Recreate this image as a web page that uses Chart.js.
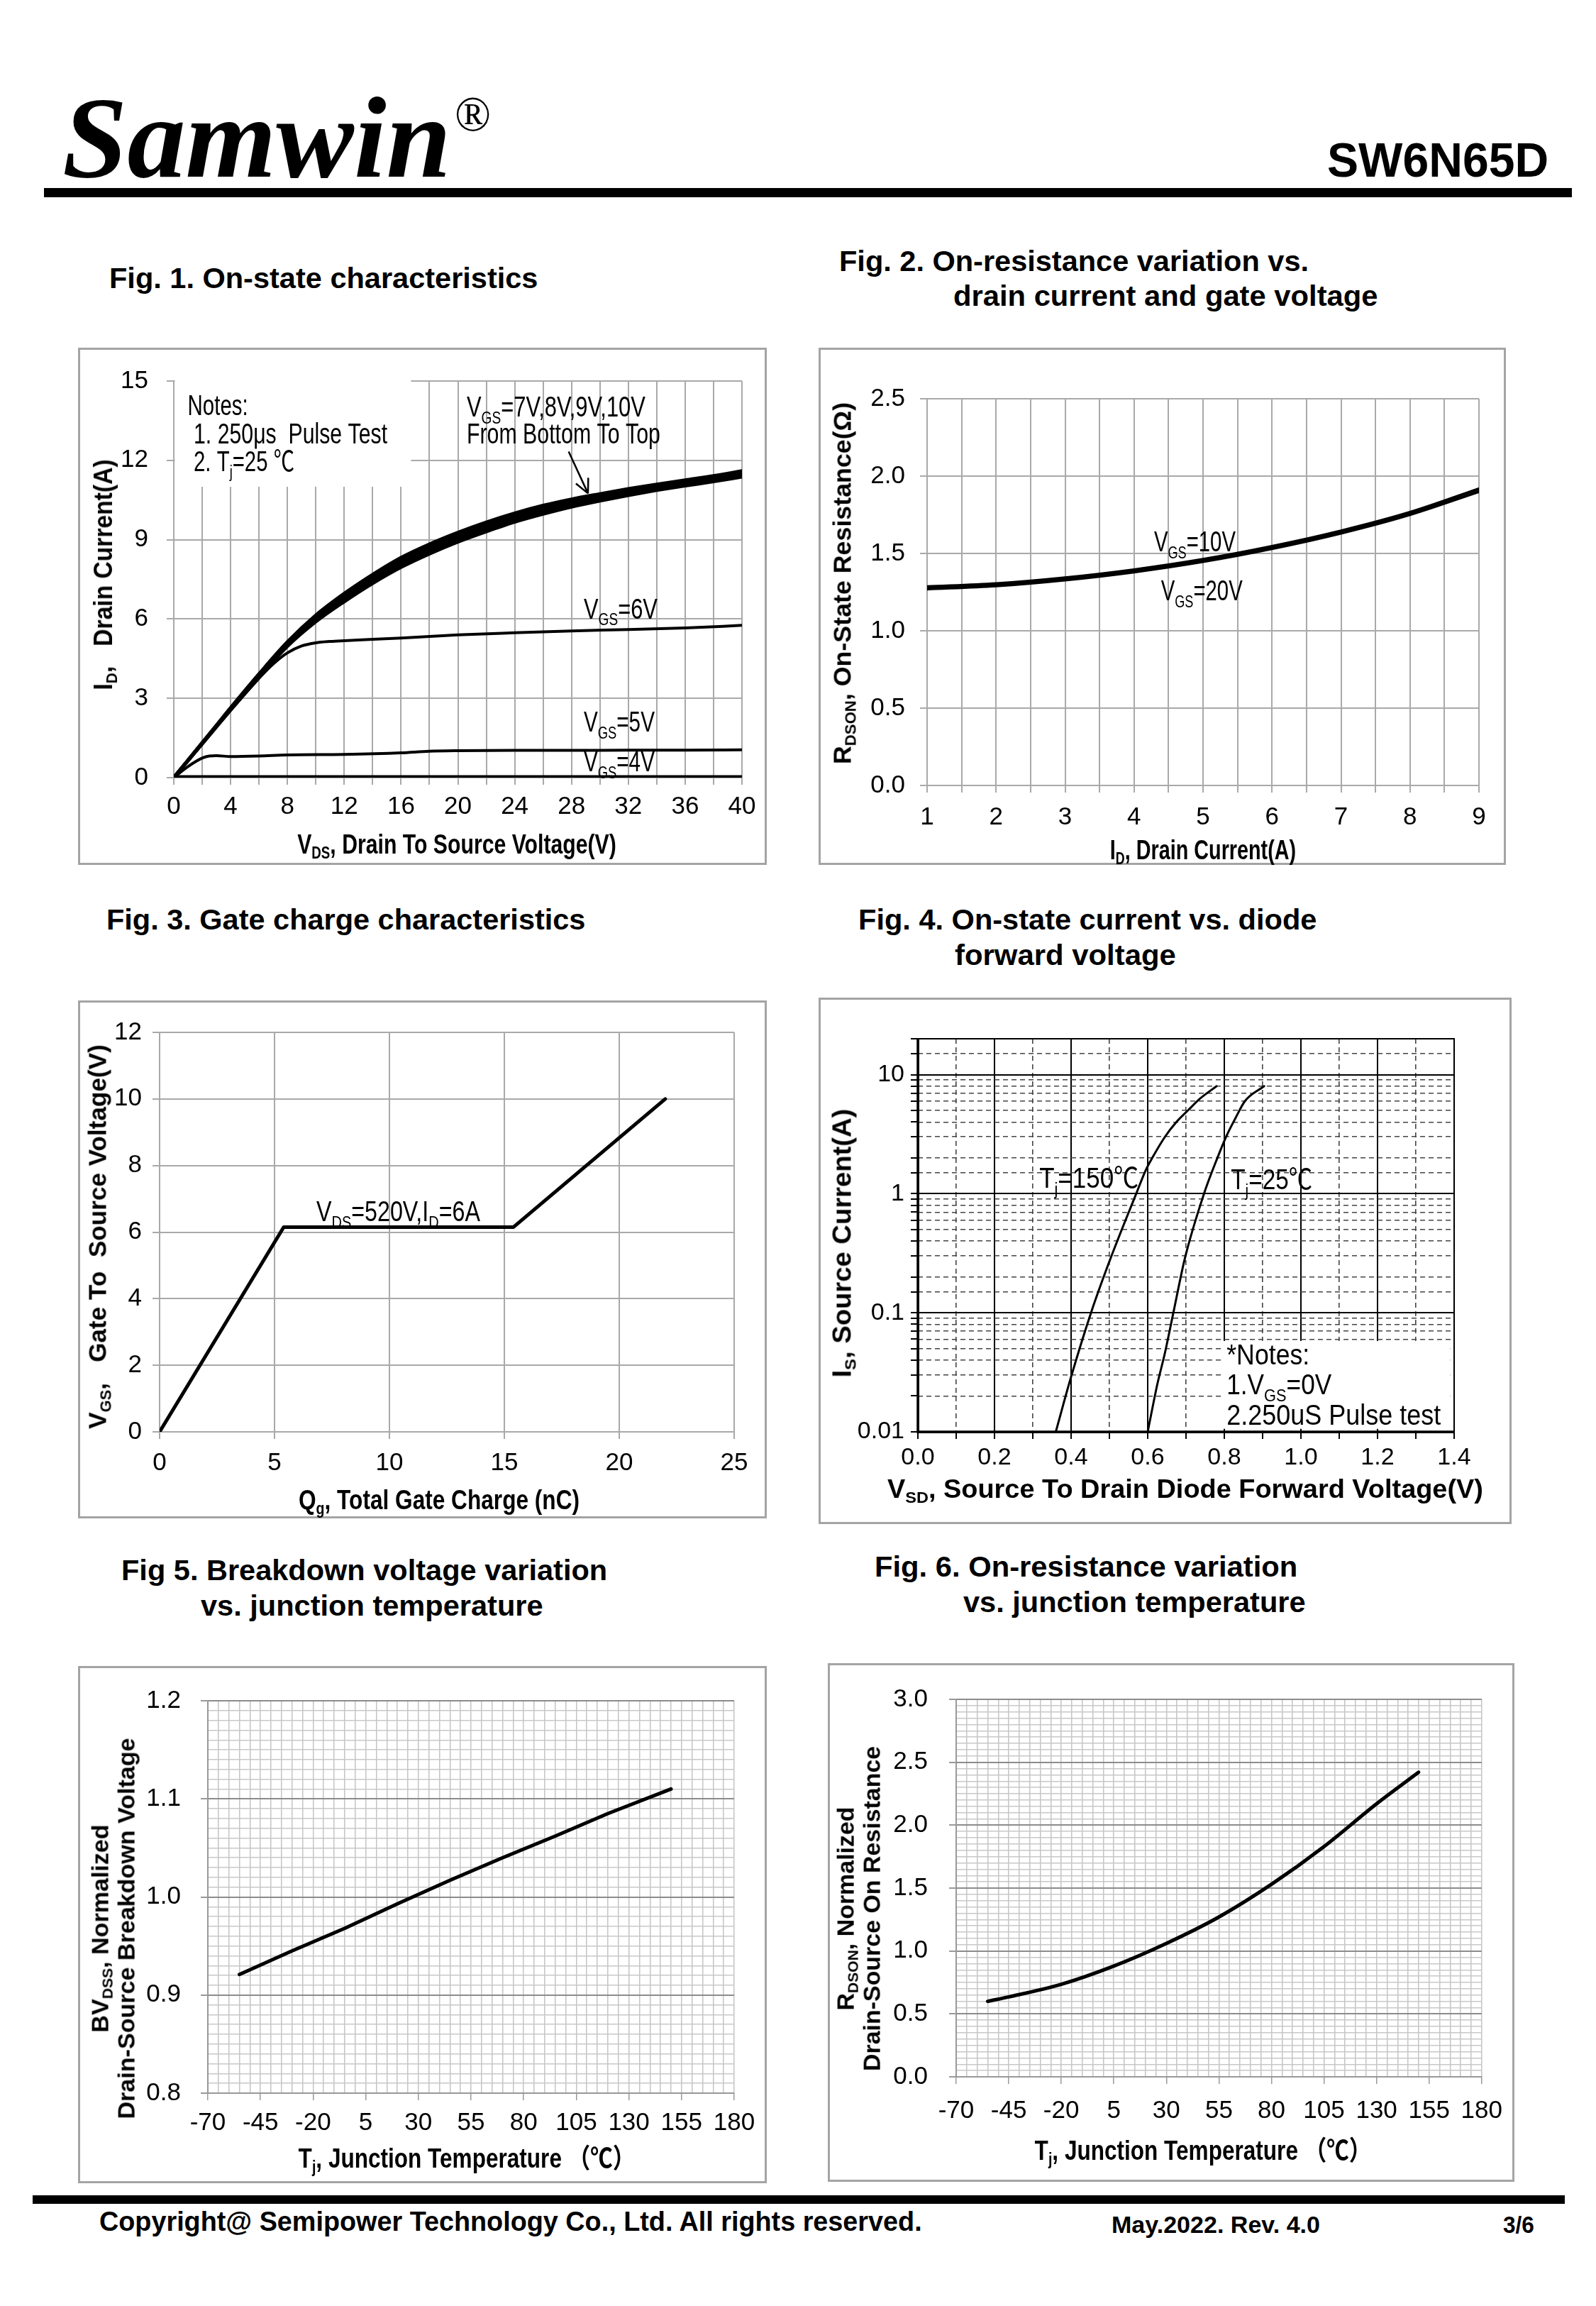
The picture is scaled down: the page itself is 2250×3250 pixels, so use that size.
<!DOCTYPE html>
<html>
<head>
<meta charset="utf-8">
<title>SW6N65D typical characteristics</title>
<script src="https://cdn.jsdelivr.net/npm/chart.js@4.4.1/dist/chart.umd.min.js"></script>
<style>
  html, body { margin: 0; padding: 0; background: #fff; }
  #page {
    position: relative; width: 2250px; height: 3250px; overflow: hidden; background: #fff; color: #000;
    font-family: "Liberation Sans", Arial, "Noto Sans CJK SC", sans-serif;
  }
  .t { position: absolute; white-space: nowrap; line-height: 1; }
  .b { font-weight: bold; }
  .s { font-size: 0.62em; position: relative; top: 0.3em; }
  .two { line-height: 1.1; text-align: center; }
  .box { position: absolute; border: 3px solid #a4a4a4; box-sizing: border-box; }
  .rule { position: absolute; background: #000; }
  canvas { position: absolute; }
</style>
</head>
<body>
<div id="page">
  <!-- header -->
  <div class="t" data-x="88" data-y="194" data-w="548" style="font: italic bold 164px/1 'Liberation Serif', 'Times New Roman', serif;">Samwin</div>
  <div class="t" data-x="641" data-y="161" data-w="51" style="font: 70px/1 'Liberation Serif', serif;">®</div>
  <div class="t b" data-x="1871" data-y="225" data-w="312" style="font-size:68px;">SW6N65D</div>
  <div class="rule" style="left:62px;top:265px;width:2154px;height:13px;"></div>

  <!-- figure titles -->
  <div class="t b" data-x="154" data-y="392" data-w="604" style="font-size:40px;">Fig. 1. On-state characteristics</div>
  <div class="t b" data-x="1183" data-y="368" data-w="662" style="font-size:40px;">Fig. 2. On-resistance variation vs.</div>
  <div class="t b" data-x="1344" data-y="417" data-w="598" style="font-size:40px;">drain current and gate voltage</div>
  <div class="t b" data-x="150" data-y="1296" data-w="675" style="font-size:40px;">Fig. 3. Gate charge characteristics</div>
  <div class="t b" data-x="1210" data-y="1296" data-w="646" style="font-size:40px;">Fig. 4. On-state current vs. diode</div>
  <div class="t b" data-x="1346" data-y="1346" data-w="312" style="font-size:40px;">forward voltage</div>
  <div class="t b" data-x="171" data-y="2213" data-w="685" style="font-size:40px;">Fig 5. Breakdown voltage variation</div>
  <div class="t b" data-x="283" data-y="2263" data-w="483" style="font-size:40px;">vs. junction temperature</div>
  <div class="t b" data-x="1233" data-y="2208" data-w="596" style="font-size:40px;">Fig. 6. On-resistance variation</div>
  <div class="t b" data-x="1358" data-y="2258" data-w="483" style="font-size:40px;">vs. junction temperature</div>

  <!-- chart frames -->
  <div class="box" style="left:110px;top:490px;width:971px;height:729px;"></div>
  <div class="box" style="left:1154px;top:490px;width:969px;height:729px;"></div>
  <div class="box" style="left:110px;top:1410px;width:971px;height:730px;"></div>
  <div class="box" style="left:1154px;top:1406px;width:977px;height:742px;"></div>
  <div class="box" style="left:110px;top:2348px;width:971px;height:729px;"></div>
  <div class="box" style="left:1167px;top:2344px;width:968px;height:731px;"></div>

  <canvas id="fig1" width="971" height="729" style="left:110px;top:490px;width:971px;height:729px;"></canvas>
  <canvas id="fig2" width="969" height="729" style="left:1154px;top:490px;width:969px;height:729px;"></canvas>
  <canvas id="fig3" width="971" height="730" style="left:110px;top:1410px;width:971px;height:730px;"></canvas>
  <canvas id="fig4" width="977" height="742" style="left:1154px;top:1406px;width:977px;height:742px;"></canvas>
  <canvas id="fig5" width="971" height="729" style="left:110px;top:2348px;width:971px;height:729px;"></canvas>
  <canvas id="fig6" width="968" height="731" style="left:1167px;top:2344px;width:968px;height:731px;"></canvas>

  <!-- axis titles -->
  <div class="t b" data-x="146" data-y="810" data-w="325" data-a="c" data-r="1" style="font-size:36px;">I<span class="s">D</span>,&nbsp;&nbsp; Drain Current(A)</div>
  <div class="t b" data-x="644" data-y="1190" data-w="450" data-a="c" style="font-size:38px;">V<span class="s">DS</span>, Drain To Source Voltage(V)</div>
  <div class="t b" data-x="1187" data-y="822" data-w="510" data-a="c" data-r="1" style="font-size:35px;">R<span class="s">DSON</span>, On-State Resistance(Ω)</div>
  <div class="t b" data-x="1696" data-y="1198" data-w="262" data-a="c" style="font-size:38px;">I<span class="s">D</span>, Drain Current(A)</div>
  <div class="t b" data-x="137" data-y="1743" data-w="542" data-a="c" data-r="1" style="font-size:35px;">V<span class="s">GS</span>,&nbsp;&nbsp; Gate To&nbsp; Source Voltage(V)</div>
  <div class="t b" data-x="619" data-y="2114" data-w="396" data-a="c" style="font-size:38px;">Q<span class="s">g</span>, Total Gate Charge (nC)</div>
  <div class="t b" data-x="1187" data-y="1752" data-w="379" data-a="c" data-r="1" style="font-size:37px;">I<span class="s">S</span>, Source Current(A)</div>
  <div class="t b" data-x="1671" data-y="2098" data-w="840" data-a="c" style="font-size:37px;">V<span class="s">SD</span>, Source To Drain Diode Forward Voltage(V)</div>
  <div class="t b two" data-x="160" data-y="2718" data-w="537" data-a="c" data-r="1" style="font-size:34px;">BV<span class="s">DSS</span>, Normalized<br>Drain-Source Breakdown Voltage</div>
  <div class="t b" data-x="658" data-y="3042" data-w="475" data-a="c" style="font-size:38px;">T<span class="s">j</span>, Junction Temperature （℃）</div>
  <div class="t b two" data-x="1211" data-y="2690" data-w="458" data-a="c" data-r="1" style="font-size:34px;">R<span class="s">DSON</span>, Normalized<br>Drain-Source On Resistance</div>
  <div class="t b" data-x="1696" data-y="3031" data-w="475" data-a="c" style="font-size:38px;">T<span class="s">j</span>, Junction Temperature （℃）</div>

  <!-- footer -->
  <div class="rule" style="left:46px;top:3094px;width:2160px;height:12px;"></div>
  <div class="t b" data-x="140" data-y="3131" data-w="1160" style="font-size:38px;">Copyright@ Semipower Technology Co., Ltd. All rights reserved.</div>
  <div class="t b" data-x="1567" data-y="3135" data-w="294" style="font-size:33px;">May.2022. Rev. 4.0</div>
  <div class="t b" data-x="2119" data-y="3135" data-w="44" style="font-size:33px;">3/6</div>
</div>

<script>
// --- Fig. 1: on-state characteristics (VDS in V, ID in A) ---
const vdsBundle = [0, 1, 2, 3, 4, 6, 8, 10, 12, 14, 16, 18, 20, 22, 24, 26, 28, 30, 32, 34, 36, 38, 40];
const id7V  = [0, 0.64, 1.28, 1.92, 2.56, 3.79, 4.97, 5.90, 6.66, 7.35, 7.96, 8.47, 8.92, 9.31, 9.67, 9.97, 10.24, 10.47, 10.68, 10.87, 11.04, 11.20, 11.38];
const id8V  = [0, 0.65, 1.30, 1.94, 2.58, 3.83, 5.03, 5.98, 6.76, 7.46, 8.08, 8.59, 9.04, 9.43, 9.78, 10.08, 10.34, 10.56, 10.76, 10.94, 11.11, 11.27, 11.45];
const id9V  = [0, 0.65, 1.31, 1.96, 2.61, 3.87, 5.08, 6.06, 6.86, 7.57, 8.20, 8.71, 9.16, 9.55, 9.89, 10.19, 10.44, 10.65, 10.84, 11.02, 11.18, 11.34, 11.52];
const id10V = [0, 0.66, 1.32, 1.98, 2.64, 3.92, 5.13, 6.14, 6.96, 7.68, 8.32, 8.83, 9.27, 9.66, 10.00, 10.29, 10.53, 10.73, 10.92, 11.09, 11.25, 11.41, 11.60];
const vds6V = [0, 1, 2, 3, 4, 6, 7, 8, 9, 10, 11, 12, 16, 20, 24, 28, 32, 36, 40];
const id6V  = [0, 0.64, 1.28, 1.92, 2.55, 3.76, 4.30, 4.72, 4.98, 5.10, 5.15, 5.18, 5.28, 5.40, 5.48, 5.55, 5.60, 5.66, 5.76];
const vds5V = [0, 1, 2, 2.5, 3, 4, 6, 8, 12, 16, 18, 20, 24, 28, 32, 36, 40];
const id5V  = [0, 0.42, 0.74, 0.82, 0.83, 0.80, 0.82, 0.86, 0.88, 0.94, 1.00, 1.02, 1.03, 1.03, 1.04, 1.04, 1.05];
const vds4V = [0, 20, 40];
const id4V  = [0, 0, 0];

// --- Fig. 2: on-resistance vs drain current ---
const idDrain = [1, 2, 3, 4, 5, 6, 7, 8, 9];
const rds10V  = [1.285, 1.305, 1.343, 1.395, 1.462, 1.546, 1.646, 1.766, 1.918];
const rds20V  = [1.270, 1.290, 1.328, 1.380, 1.447, 1.531, 1.631, 1.751, 1.900];

// --- Fig. 3: gate charge ---
const qgCharge = [0, 5.4, 15.4, 22];
const vgsGate  = [0, 6.15, 6.15, 10];

// --- Fig. 4: body diode forward characteristic ---
const vsd150 = [0.36, 0.40, 0.452, 0.503, 0.57, 0.595, 0.612, 0.645, 0.675, 0.705, 0.737, 0.78];
const is150  = [0.01, 0.029, 0.1, 0.286, 1, 1.58, 2, 3, 4, 5, 6.3, 8];
const vsd25  = [0.60, 0.625, 0.645, 0.667, 0.697, 0.747, 0.782, 0.806, 0.829, 0.854, 0.904];
const is25   = [0.01, 0.025, 0.046, 0.1, 0.286, 1, 2, 3.07, 4.3, 6.0, 8.0];

// --- Fig. 5 / Fig. 6: temperature dependence ---
const tjBv   = [-55, -30, -5, 20, 45, 70, 95, 120, 150];
const bvNorm = [0.921, 0.945, 0.968, 0.993, 1.017, 1.040, 1.062, 1.085, 1.110];
const tjRds   = [-55, -45, -20, 5, 30, 55, 80, 105, 130, 150];
const rdsNorm = [0.60, 0.635, 0.735, 0.88, 1.06, 1.27, 1.53, 1.83, 2.17, 2.42];

// --- Fit the html labels to the widths measured on the sheet ---
document.querySelectorAll('#page [data-w]').forEach((el) => {
  const { x, y, w, a, r } = el.dataset;
  const centred = a === 'c';
  el.style.left = x + 'px';
  el.style.top = y + 'px';
  el.style.transformOrigin = centred ? '50% 50%' : '0 50%';
  const s = +w / el.offsetWidth;
  el.style.transform = `translate(${centred ? '-50%' : '0'}, -50%)${r ? ' rotate(-90deg)' : ''} scaleX(${s})`;
});

const SANS = '"Liberation Sans", Arial, "Noto Sans CJK SC", sans-serif';
Chart.defaults.font.family = SANS;
Chart.defaults.color = '#000';

// --- Text with subscripts inside a plot: "V_GS_=6V" -> V, GS (sub), =6V ---
const drawRich = (ctx, text, x, y, size, width) => {
  const parts = text.split('_').map((t, i) => [t, i % 2 === 1]);
  const fontFor = (sub) => `${sub ? size * 0.62 : size}px ${SANS}`;
  ctx.save();
  ctx.fillStyle = '#000';
  ctx.textAlign = 'left';
  ctx.textBaseline = 'alphabetic';
  let natural = 0;
  parts.forEach(([t, sub]) => { ctx.font = fontFor(sub); natural += ctx.measureText(t).width; });
  ctx.translate(x, y);
  ctx.scale(width ? width / natural : 1, 1);
  let cx = 0;
  parts.forEach(([t, sub]) => {
    ctx.font = fontFor(sub);
    ctx.fillText(t, cx, sub ? size * 0.24 : 0);
    cx += ctx.measureText(t).width;
  });
  ctx.restore();
};

const notesPlugin = (notes, blanks = [], arrow = null) => ({
  id: 'notes',
  beforeDatasetsDraw(chart) {
    const { ctx, scales: { x, y } } = chart;
    ctx.save();
    ctx.fillStyle = '#fff';
    blanks.forEach(([x0, y0, x1, y1]) => {
      const px0 = x.getPixelForValue(x0), px1 = x.getPixelForValue(x1);
      const py0 = y.getPixelForValue(y0), py1 = y.getPixelForValue(y1);
      ctx.fillRect(Math.min(px0, px1), Math.min(py0, py1), Math.abs(px1 - px0), Math.abs(py1 - py0));
    });
    ctx.restore();
  },
  afterDatasetsDraw(chart) {
    const { ctx, scales: { x, y } } = chart;
    notes.forEach((n) => drawRich(ctx, n.text, x.getPixelForValue(n.x), y.getPixelForValue(n.y), n.size || 40, n.w));
    if (arrow) {
      const x0 = x.getPixelForValue(arrow[0]), y0 = y.getPixelForValue(arrow[1]);
      const x1 = x.getPixelForValue(arrow[2]), y1 = y.getPixelForValue(arrow[3]);
      const ang = Math.atan2(y1 - y0, x1 - x0);
      ctx.save();
      ctx.strokeStyle = '#000';
      ctx.lineWidth = 2.5;
      ctx.beginPath();
      ctx.moveTo(x0, y0);
      ctx.lineTo(x1, y1);
      [-0.45, 0.45].forEach((d) => {
        ctx.moveTo(x1, y1);
        ctx.lineTo(x1 - 22 * Math.cos(ang + d), y1 - 22 * Math.sin(ang + d));
      });
      ctx.stroke();
      ctx.restore();
    }
  },
});

const framePlugin = {
  id: 'frame',
  afterDatasetsDraw(chart) {
    const { ctx, chartArea: a } = chart;
    ctx.save();
    ctx.strokeStyle = '#000';
    ctx.lineWidth = 2;
    ctx.strokeRect(a.left, a.top, a.right - a.left, a.bottom - a.top);
    ctx.lineWidth = 3.5;
    ctx.beginPath();
    ctx.moveTo(a.left, a.top);
    ctx.lineTo(a.left, a.bottom);
    ctx.lineTo(a.right, a.bottom);
    ctx.stroke();
    ctx.restore();
  },
};

// --- Axis helpers ---
const fixedSize = (pos, size) => (scale) => {
  if (pos === 'left') scale.width = size;
  else scale.height = size;
};

const gridAxis = (o) => ({
  type: o.type || 'linear',
  position: o.pos,
  min: o.min,
  max: o.max,
  afterFit: fixedSize(o.pos, o.size),
  ticks: {
    stepSize: o.step, autoSkip: false, maxRotation: 0, minRotation: 0,
    padding: o.pad, color: '#000', font: { size: o.font || 35 },
    callback: o.label || ((v) => String(v)),
  },
  grid: {
    color: o.color || '#a9a9a9', lineWidth: o.lw || 2,
    tickLength: 10, tickColor: o.tickColor || o.color || '#a9a9a9',
  },
  border: { color: o.borderColor || '#a9a9a9', width: o.borderWidth || 2 },
});

const dashAxis = (o) => ({
  type: o.type || 'linear',
  position: o.pos,
  min: o.min,
  max: o.max,
  afterFit: fixedSize(o.pos, 0),
  ticks: { stepSize: o.step, display: false, autoSkip: false },
  grid: { drawTicks: false, color: o.color, lineWidth: 1.6 },
  border: { display: false, dash: [7, 5] },
});

const curve = (xs, ys, width, smooth = true) => ({
  data: xs.map((x, i) => ({ x, y: ys[i] })),
  borderColor: '#000',
  borderWidth: width,
  pointRadius: 0,
  fill: false,
  tension: 0,
  cubicInterpolationMode: smooth ? 'monotone' : 'default',
  borderCapStyle: 'round',
  borderJoinStyle: 'round',
});

const makeChart = (id, datasets, padding, scales, plugins = []) =>
  new Chart(document.getElementById(id), {
    type: 'line',
    data: { datasets },
    options: {
      responsive: false,
      devicePixelRatio: 1,
      animation: false,
      events: [],
      layout: { padding },
      plugins: { legend: { display: false }, tooltip: { enabled: false } },
      scales,
    },
    plugins,
  });

const isDecade = (v) => { const l = Math.log10(v); return Math.abs(l - Math.round(l)) < 1e-6; };
const isEvenTenth = (v) => Math.round(v * 10) % 2 === 0;
const isTempLabel = (v) => (Math.round(v) + 70) % 25 === 0;
const isMultiple = (v, m) => Math.abs(v / m - Math.round(v / m)) < 1e-6;

// --- Fig. 1 ---
makeChart('fig1',
  [curve(vdsBundle, id7V, 5), curve(vdsBundle, id8V, 5), curve(vdsBundle, id9V, 5), curve(vdsBundle, id10V, 5),
   curve(vds6V, id6V, 4), curve(vds5V, id5V, 4), curve(vds4V, id4V, 7)],
  { left: 0, top: 45, right: 35, bottom: 53 },
  {
    x: gridAxis({ pos: 'bottom', min: 0, max: 40, step: 2, size: 70, pad: 10, label: (v) => (v % 4 === 0 ? String(v) : '') }),
    y: gridAxis({ pos: 'left', min: 0, max: 15, step: 3, size: 135, pad: 26 }),
  },
  [notesPlugin([
    { text: 'V_GS_=6V', x: 28.86, y: 6.02, w: 104 },
    { text: 'V_GS_=5V', x: 28.86, y: 1.74, w: 100 },
    { text: 'V_GS_=4V', x: 28.86, y: 0.23, w: 100 },
    { text: 'V_GS_=7V,8V,9V,10V', x: 20.62, y: 13.66, w: 252 },
    { text: 'From Bottom To Top', x: 20.62, y: 12.65, w: 273 },
    { text: 'Notes:', x: 0.98, y: 13.7, w: 85 },
    { text: '1. 250μs  Pulse Test', x: 1.4, y: 12.65, w: 273 },
    { text: '2. T_j_=25 ℃', x: 1.4, y: 11.6, w: 142 },
  ], [[0.08, 15.1, 16.7, 11.0]], [27.8, 12.33, 29.16, 10.75])]);

// --- Fig. 2 ---
makeChart('fig2',
  [curve(idDrain, rds10V, 4), curve(idDrain, rds20V, 4)],
  { left: 0, top: 72, right: 38, bottom: 42 },
  {
    x: gridAxis({ pos: 'bottom', min: 1, max: 9, step: 0.5, size: 70, pad: 14, label: (v) => (isMultiple(v, 1) ? String(v) : '') }),
    y: gridAxis({ pos: 'left', min: 0, max: 2.5, step: 0.5, size: 153, pad: 21, label: (v) => v.toFixed(1) }),
  },
  [notesPlugin([
    { text: 'V_GS_=10V', x: 4.29, y: 1.514, w: 115 },
    { text: 'V_GS_=20V', x: 4.39, y: 1.197, w: 115 },
  ])]);

// --- Fig. 3 ---
makeChart('fig3',
  [curve(qgCharge, vgsGate, 5, false)],
  { left: 0, top: 45, right: 46, bottom: 52 },
  {
    x: gridAxis({ pos: 'bottom', min: 0, max: 25, step: 5, size: 70, pad: 13 }),
    y: gridAxis({ pos: 'left', min: 0, max: 12, step: 2, size: 115, pad: 15 }),
  },
  [notesPlugin([{ text: 'V_DS_=520V,I_D_=6A', x: 6.82, y: 6.33, w: 231 }])]);

// --- Fig. 4 ---
makeChart('fig4',
  [curve(vsd150, is150, 3), curve(vsd25, is25, 3)],
  { left: 0, top: 58, right: 81, bottom: 60 },
  {
    x: gridAxis({
      pos: 'bottom', min: 0, max: 1.4, step: 0.1, size: 70, pad: 6, font: 34,
      label: (v) => (isEvenTenth(v) ? v.toFixed(1) : ''),
      color: (c) => (isEvenTenth(c.tick.value) ? '#000' : 'rgba(0,0,0,0)'),
      tickColor: '#000', borderColor: '#000', borderWidth: 3,
    }),
    x2: dashAxis({ pos: 'bottom', min: 0, max: 1.4, step: 0.1, color: (c) => (isEvenTenth(c.tick.value) ? 'rgba(0,0,0,0)' : '#444') }),
    y: gridAxis({
      type: 'logarithmic', pos: 'left', min: 0.01, max: 20, size: 140, pad: 9, font: 34,
      label: (v) => (isDecade(v) ? String(+v.toPrecision(3)) : ''),
      color: (c) => (isDecade(c.tick.value) ? '#000' : 'rgba(0,0,0,0)'),
      tickColor: '#000', borderColor: '#000', borderWidth: 3,
    }),
    y2: dashAxis({ type: 'logarithmic', pos: 'left', min: 0.01, max: 20, color: (c) => (isDecade(c.tick.value) ? 'rgba(0,0,0,0)' : '#444') }),
  },
  [notesPlugin([
    { text: 'T_j_=150℃', x: 0.317, y: 1.12, w: 140 },
    { text: 'T_j_=25℃', x: 0.817, y: 1.09, w: 115 },
    { text: '*Notes:', x: 0.806, y: 0.0366, w: 117 },
    { text: '1.V_GS_=0V', x: 0.806, y: 0.0206, w: 148 },
    { text: '2.250uS Pulse test', x: 0.806, y: 0.0115, w: 302 },
  ], [[0.797, 0.0106, 1.39, 0.058]]), framePlugin]);

// --- Fig. 5 ---
makeChart('fig5',
  [curve(tjBv, bvNorm, 5, false)],
  { left: 0, top: 44, right: 46, bottom: 57 },
  {
    x: gridAxis({
      pos: 'bottom', min: -70, max: 180, step: 5, size: 70, pad: 11,
      label: (v) => (isTempLabel(v) ? String(Math.round(v)) : ''),
      color: '#c4c4c4', lw: 1.5, tickColor: (c) => (isTempLabel(c.tick.value) ? '#999' : 'rgba(0,0,0,0)'), borderColor: '#999',
    }),
    y: gridAxis({
      pos: 'left', min: 0.8, max: 1.2, step: 0.01, size: 183, pad: 28,
      label: (v) => (isMultiple(v, 0.1) ? v.toFixed(1) : ''),
      color: (c) => (isMultiple(c.tick.value, 0.1) ? '#8c8c8c' : '#c8c8c8'),
      lw: (c) => (isMultiple(c.tick.value, 0.1) ? 2 : 1.5),
      tickColor: (c) => (isMultiple(c.tick.value, 0.1) ? '#999' : 'rgba(0,0,0,0)'), borderColor: '#999',
    }),
  });

// --- Fig. 6 ---
makeChart('fig6',
  [curve(tjRds, rdsNorm, 5)],
  { left: 0, top: 37, right: 45, bottom: 78 },
  {
    x: gridAxis({
      pos: 'bottom', min: -70, max: 180, step: 5, size: 70, pad: 17,
      label: (v) => (isTempLabel(v) ? String(Math.round(v)) : ''),
      color: '#c4c4c4', lw: 1.5, tickColor: (c) => (isTempLabel(c.tick.value) ? '#999' : 'rgba(0,0,0,0)'), borderColor: '#999',
    }),
    y: gridAxis({
      pos: 'left', min: 0, max: 3, step: 0.05, size: 181, pad: 30,
      label: (v) => (isMultiple(v, 0.5) ? v.toFixed(1) : ''),
      color: (c) => (isMultiple(c.tick.value, 0.5) ? '#8c8c8c' : '#c8c8c8'),
      lw: (c) => (isMultiple(c.tick.value, 0.5) ? 2 : 1.5),
      tickColor: (c) => (isMultiple(c.tick.value, 0.5) ? '#999' : 'rgba(0,0,0,0)'), borderColor: '#999',
    }),
  });
</script>
</body>
</html>
